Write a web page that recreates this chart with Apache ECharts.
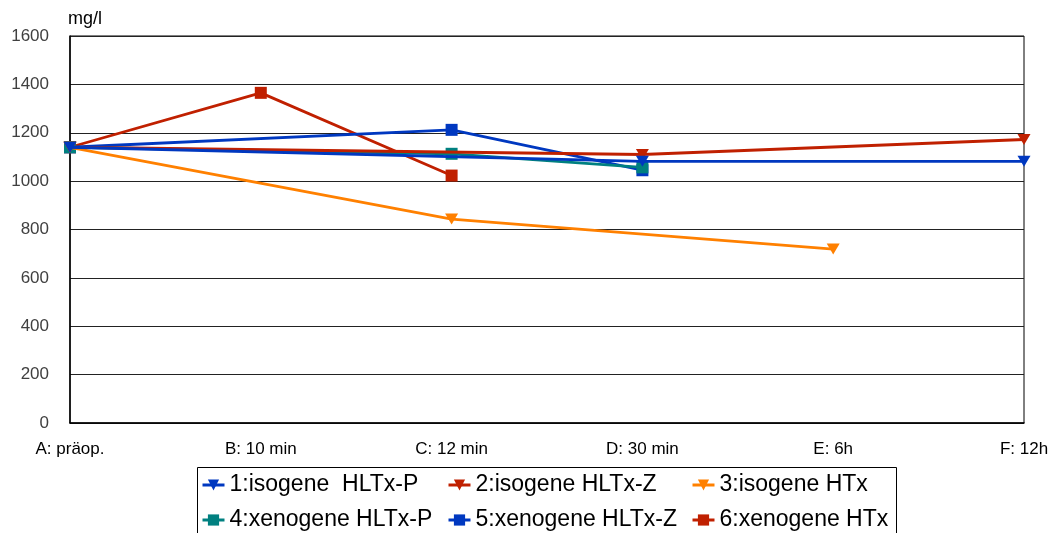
<!DOCTYPE html>
<html>
<head>
<meta charset="utf-8">
<script src="https://cdn.jsdelivr.net/npm/echarts@6/dist/echarts.min.js"></script>
<style>html,body{margin:0;padding:0;background:#fff}#c{width:1058px;height:533px}</style>
</head>
<body>
<div id="c"></div>
<script>
const categories = ['A: präop.', 'B: 10 min', 'C: 12 min', 'D: 30 min', 'E: 6h', 'F: 12h'];
const seriesNames = ['1:isogene  HLTx-P', '2:isogene HLTx-Z', '3:isogene HTx', '4:xenogene HLTx-P', '5:xenogene HLTx-Z', '6:xenogene HTx'];
const s1 = [1140, null, null, 1082, null, 1082];
const s2 = [1140, null, null, 1110, null, 1172];
const s3 = [1140, null, 843, null, 719, null];
const s4 = [1140, null, 1113, 1057, null, null];
const s5 = [1140, null, 1212, 1045, null, null];
const s6 = [1140, 1365, 1023, null, null, null];
const yTicks = [0, 200, 400, 600, 800, 1000, 1200, 1400, 1600];

const colors = ['#0038c0', '#c02000', '#ff8000', '#008080', '#0038c0', '#c02000'];
const symbols = ['triangle', 'triangle', 'triangle', 'rect', 'rect', 'rect'];
const values = [s1, s2, s3, s4, s5, s6];
const FONT = "'Liberation Sans', Arial, sans-serif";

const chart = echarts.init(document.getElementById('c'), null, {renderer: 'canvas'});

const series = values.map((v, i) => ({
  name: seriesNames[i],
  type: 'line',
  data: v,
  connectNulls: true,
  color: colors[i],
  symbol: symbols[i],
  symbolRotate: symbols[i] === 'triangle' ? 180 : 0,
  symbolSize: symbols[i] === 'triangle' ? [13, 11] : 12,
  showAllSymbol: true,
  lineStyle: {width: 2.8, color: colors[i]},
  itemStyle: {color: colors[i]},
  z: 10 - i,
  animation: false
}));

const legendLefts = [201, 447, 691];
const legendTops = [473, 508];
const legends = seriesNames.map((n, i) => ({
  data: [n],
  left: legendLefts[i % 3],
  top: legendTops[Math.floor(i / 3)],
  orient: 'horizontal',
  padding: 0,
  itemWidth: 22,
  itemHeight: 14,
  lineStyle: {width: 3},
  textStyle: {fontFamily: FONT, fontSize: 23, color: '#000', lineHeight: 24},
  selectedMode: false
}));

chart.setOption({
  backgroundColor: '#fff',
  animation: false,
  grid: {left: 70, right: 34, top: 36, bottom: 110, show: true, borderColor: '#000', borderWidth: 1},
  xAxis: {
    type: 'category',
    data: categories,
    boundaryGap: false,
    axisLine: {show: true, lineStyle: {color: '#000', width: 1.5}},
    axisTick: {show: false},
    axisLabel: {fontFamily: FONT, fontSize: 17, color: '#000', margin: 18, interval: 0},
    splitLine: {show: false}
  },
  yAxis: {
    type: 'value',
    min: yTicks[0],
    max: yTicks[yTicks.length - 1],
    interval: yTicks[1] - yTicks[0],
    name: 'mg/l',
    nameLocation: 'end',
    nameGap: 8,
    nameTextStyle: {fontFamily: FONT, fontSize: 18, color: '#000', align: 'left', padding: [0, 0, 0, -2]},
    axisLine: {show: true, lineStyle: {color: '#000', width: 1.5}},
    axisTick: {show: false},
    axisLabel: {fontFamily: FONT, fontSize: 17, color: '#404040', margin: 21, formatter: v => String(v)},
    splitLine: {show: true, lineStyle: {color: '#222', width: 1}}
  },
  legend: legends,
  graphic: [{
    type: 'rect',
    shape: {x: 197.5, y: 467.5, width: 699, height: 80},
    style: {fill: 'none', stroke: '#000', lineWidth: 1},
    silent: true
  }],
  series: series
});
</script>
</body>
</html>
